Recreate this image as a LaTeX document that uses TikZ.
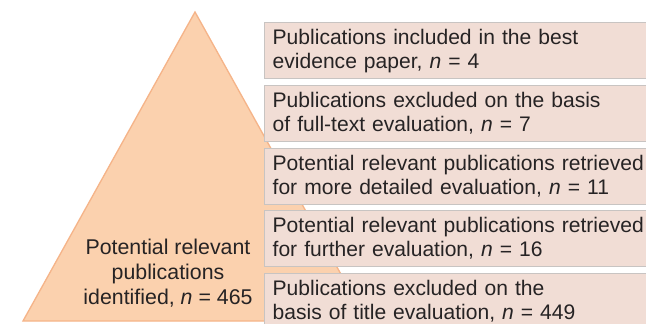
\documentclass[tikz,border=0pt]{standalone}
\usepackage{fontspec}
\setmainfont{Liberation Sans}
\definecolor{pyramidfill}{HTML}{FBD1AE}
\definecolor{pyramidedge}{HTML}{F5B489}
\definecolor{boxfill}{HTML}{F1DDD5}
\definecolor{boxedge}{HTML}{C8C4C2}
\definecolor{textgray}{HTML}{262324}

\begin{document}
\begin{tikzpicture}[x=0.75pt, y=-0.75pt,
  stage/.style={draw=boxedge, fill=boxfill, line width=1pt, anchor=north west,
    minimum height=42pt, text width=285pt, inner xsep=6pt, align=left,
    text=textgray, font=\fontsize{15.8}{18}\selectfont}]
  % Page frame
  \clip (0,0) rectangle (646,324);

  % Pyramid vertices
  \coordinate (T) at (195,12);
  \coordinate (L) at (23,321);
  \coordinate (R) at (367,321);

  % Pyramid
  \draw[pyramidedge, fill=pyramidfill, line width=1pt] (L) -- (T) -- (R) -- cycle;
  \node[text=textgray, align=center, font=\fontsize{16}{18.5}\selectfont] (identified)
    at (168,273) {Potential relevant\\publications\\identified, \textit{n} = 465};

  % Stage boxes, top to bottom
  \node[stage] (included) at (264,22)
    {Publications included in the best\\evidence paper, \textit{n} = 4};
  \node[stage] (fulltext) at (264,85)
    {Publications excluded on the basis\\of full-text evaluation, \textit{n} = 7};
  \node[stage] (detailed) at (264,148)
    {Potential relevant publications retrieved\\for more detailed evaluation, \textit{n} = 11};
  \node[stage] (further) at (264,210)
    {Potential relevant publications retrieved\\for further evaluation, \textit{n} = 16};
  \node[stage] (title) at (264,273)
    {Publications excluded on the\\basis of title evaluation, \textit{n} = 449};
\end{tikzpicture}
\end{document}
